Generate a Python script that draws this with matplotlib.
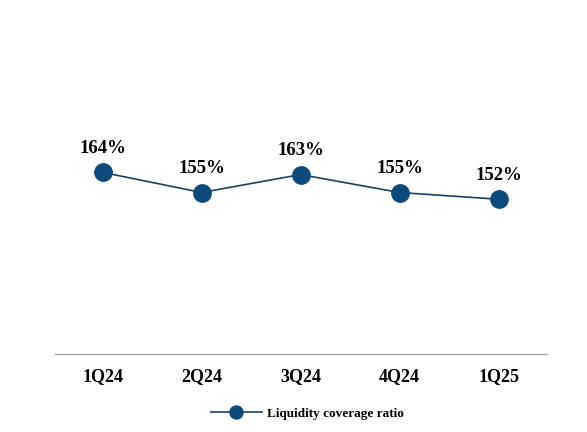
import matplotlib.pyplot as plt

# Datos del gráfico
trimestres = ["1Q24", "2Q24", "3Q24", "4Q24", "1Q25"]
lcr = [164, 155, 163, 155, 152]
etiquetas = ["164%", "155%", "163%", "155%", "152%"]

plt.rcParams['font.family'] = ['Liberation Serif', 'DejaVu Serif']

fig = plt.figure(figsize=(5.87, 4.32), dpi=100)
ax = fig.add_axes([0.0937, 0.1806, 0.8382, 0.7268])

x = list(range(len(trimestres)))
ax.plot(x, lcr, color="#1d3e5e", linewidth=1.2, marker="o", markersize=12.5,
        markerfacecolor="#0b4a7a", markeredgecolor="#0b4a7a",
        label="Liquidity coverage ratio")

for xi, yi, txt in zip(x, lcr, etiquetas):
    ax.annotate(txt, (xi, yi), xytext=(0, 11), textcoords="offset points",
                ha="center", va="bottom", fontsize=13.5, fontweight="bold")

ax.set_xlim(-0.48, 4.49)
ax.set_ylim(83, 223)
ax.set_xticks(x)
ax.set_xticklabels(trimestres, fontsize=13, fontweight="bold")
ax.set_yticks([])
ax.tick_params(axis="x", length=0, pad=10)

for lado in ["top", "right", "left"]:
    ax.spines[lado].set_visible(False)
ax.spines["bottom"].set_color("#a6a6a6")
ax.spines["bottom"].set_linewidth(1.0)

ax.legend(loc="center", bbox_to_anchor=(0.513, -0.19), frameon=False,
          prop={"size": 9.5, "weight": "bold"}, handlelength=3.9,
          handletextpad=0.4, markerscale=0.75)

fig.savefig("out.png", dpi=100)
